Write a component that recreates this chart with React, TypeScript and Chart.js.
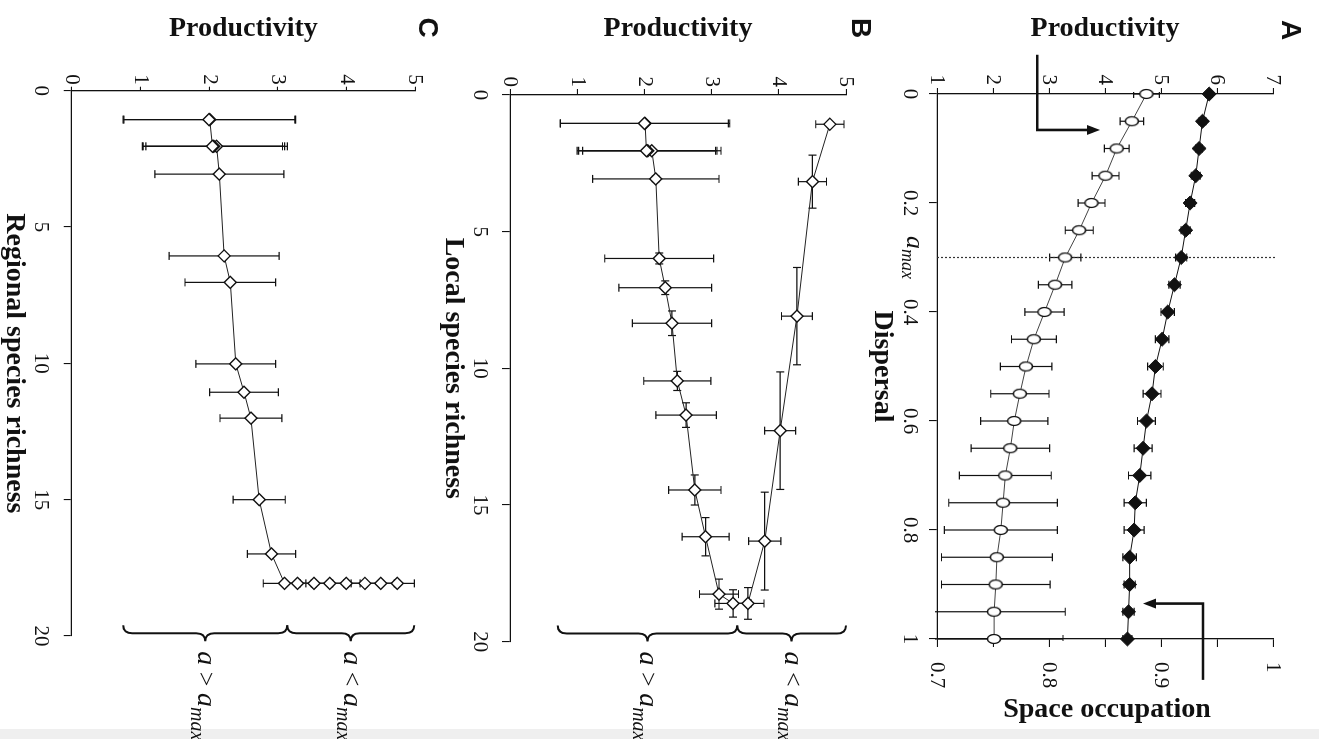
import React, { useEffect, useRef } from "react";
import { Chart, registerables } from "chart.js";

Chart.register(...registerables);

const SERIF = "'Liberation Serif', 'Times New Roman', Times, serif";
const SANS = "'Liberation Sans', Arial, Helvetica, sans-serif";
const INK = "#111111";
const FRAME_W = 739;
const FRAME_H = 1319;

// ---------------- Panel A : productivity & space occupation vs dispersal ----------------
const dispersalA = [0, 0.05, 0.1, 0.15, 0.2, 0.25, 0.3, 0.35, 0.4, 0.45, 0.5, 0.55, 0.6, 0.65, 0.7, 0.75, 0.8, 0.85, 0.9, 0.95, 1];
const productivityA = [4.74, 4.48, 4.21, 4.01, 3.76, 3.54, 3.29, 3.11, 2.92, 2.73, 2.59, 2.48, 2.38, 2.31, 2.22, 2.18, 2.14, 2.07, 2.05, 2.02, 2.02];
const productivityErrA = [0.23, 0.21, 0.22, 0.24, 0.24, 0.25, 0.28, 0.3, 0.35, 0.4, 0.46, 0.52, 0.6, 0.7, 0.82, 0.97, 1.01, 0.99, 0.97, 1.27, 1.23];
const spaceOccupationA = [0.943, 0.937, 0.934, 0.931, 0.926, 0.922, 0.918, 0.912, 0.906, 0.901, 0.895, 0.892, 0.887, 0.884, 0.881, 0.877, 0.876, 0.872, 0.872, 0.871, 0.87];
const spaceOccupationErrA = [0.003, 0.003, 0.003, 0.004, 0.004, 0.004, 0.005, 0.005, 0.006, 0.006, 0.007, 0.008, 0.008, 0.008, 0.01, 0.01, 0.009, 0.006, 0.005, 0.005, 0.004];
const productivityRangeA = [1, 7];
const spaceOccupationRangeA = [0.7, 1];
const dispersalRangeA = [0, 1];
const alphaMaxA = 0.3;
// annotation arrows, in (dispersal, productivity) units
const arrowToProductivityA = [[-0.072, 2.79], [0.066, 2.79], [0.066, 3.91]];
const arrowToSpaceA = [[1.075, 5.75], [0.935, 5.75], [0.935, 4.68]];

// ---------------- Panel B : productivity vs local species richness ----------------
const localRichnessB = [1.07, 3.17, 8.09, 12.28, 16.32, 18.6, 18.6, 18.26, 16.16, 14.45, 11.71, 10.46, 8.35, 7.05, 5.98, 3.07, 2.04, 2.04, 2.04, 1.04, 1.04];
const productivityB = [4.76, 4.5, 4.27, 4.02, 3.79, 3.54, 3.32, 3.11, 2.91, 2.75, 2.62, 2.49, 2.41, 2.31, 2.22, 2.17, 2.11, 2.05, 2.03, 2.01, 2.0];
const productivityErrB = [0.21, 0.21, 0.23, 0.23, 0.24, 0.24, 0.27, 0.29, 0.35, 0.39, 0.45, 0.5, 0.59, 0.69, 0.81, 0.94, 1.03, 1.03, 1.03, 1.26, 1.25];
const localRichnessErrB = [0, 0.97, 1.78, 2.15, 1.79, 0.58, 0.5, 0.55, 0.7, 0.55, 0.45, 0.35, 0.45, 0.25, 0.2, 0.1, 0.05, 0.05, 0.05, 0.05, 0.05];
const richnessRangeB = [0, 20];
const productivityRangeB = [0, 5];
const braceAtB = 19.7;
const braceSplitsB = [0.71, 3.38, 5.0];

// ---------------- Panel C : productivity vs regional species richness ----------------
const regionalRichnessC = [18.07, 18.07, 18.07, 18.07, 18.07, 18.07, 18.07, 18.07, 16.99, 15.0, 12.01, 11.06, 10.02, 7.03, 6.06, 3.06, 2.04, 2.04, 2.04, 1.06, 1.06];
const productivityC = [4.74, 4.5, 4.27, 4.0, 3.76, 3.53, 3.29, 3.1, 2.91, 2.73, 2.61, 2.51, 2.39, 2.31, 2.22, 2.15, 2.11, 2.07, 2.05, 2.01, 2.0];
const productivityErrC = [0.25, 0.2, 0.2, 0.2, 0.2, 0.2, 0.2, 0.31, 0.35, 0.38, 0.45, 0.5, 0.58, 0.66, 0.8, 0.94, 1.03, 1.03, 1.02, 1.25, 1.25];
const richnessRangeC = [0, 20];
const productivityRangeC = [0, 5];
const braceAtC = 19.9;
const braceSplitsC = [0.75, 3.14, 4.99];

// ---------------------------------------------------------------------------------
const titleFont = { family: SERIF, size: 28, weight: "bold" as const, lineHeight: 1 };
const tickFont = { family: SERIF, size: 21 };
const fmt = (v: number) => String(Math.round(v * 100) / 100);

function ellipseMarker(w: number, h: number) {
  const c = document.createElement("canvas");
  c.width = w + 3;
  c.height = h + 3;
  const g = c.getContext("2d")!;
  g.beginPath();
  g.ellipse(c.width / 2, c.height / 2, w / 2, h / 2, 0, 0, Math.PI * 2);
  g.fillStyle = "#fff";
  g.fill();
  g.lineWidth = 1.3;
  g.strokeStyle = INK;
  g.stroke();
  return c;
}

const errorBarPlugin = {
  id: "errorBars",
  beforeDatasetsDraw(chart: any) {
    const { ctx, chartArea } = chart;
    ctx.save();
    ctx.beginPath();
    ctx.rect(chartArea.left - 2, chartArea.top - 2, chartArea.right - chartArea.left + 4, chartArea.bottom - chartArea.top + 4);
    ctx.clip();
    chart.data.datasets.forEach((ds: any, di: number) => {
      const meta = chart.getDatasetMeta(di);
      const xs = chart.scales[meta.xAxisID];
      const ys = chart.scales[meta.yAxisID];
      ctx.strokeStyle = INK;
      ctx.lineWidth = 1.2;
      const cap = 4;
      ds.data.forEach((p: any, i: number) => {
        const cx = xs.getPixelForValue(p.x);
        const cy = ys.getPixelForValue(p.y);
        const ey = ds.errY ? ds.errY[i] : 0;
        if (ey) {
          const y1 = ys.getPixelForValue(p.y - ey);
          const y2 = ys.getPixelForValue(p.y + ey);
          ctx.beginPath();
          ctx.moveTo(cx, y1);
          ctx.lineTo(cx, y2);
          ctx.moveTo(cx - cap, y1);
          ctx.lineTo(cx + cap, y1);
          ctx.moveTo(cx - cap, y2);
          ctx.lineTo(cx + cap, y2);
          ctx.stroke();
        }
        const ex = ds.errX ? ds.errX[i] : 0;
        if (ex) {
          const x1 = xs.getPixelForValue(p.x - ex);
          const x2 = xs.getPixelForValue(p.x + ex);
          ctx.beginPath();
          ctx.moveTo(x1, cy);
          ctx.lineTo(x2, cy);
          ctx.moveTo(x1, cy - cap);
          ctx.lineTo(x1, cy + cap);
          ctx.moveTo(x2, cy - cap);
          ctx.lineTo(x2, cy + cap);
          ctx.stroke();
        }
      });
    });
    ctx.restore();
  },
};

function drawAlphaText(ctx: any, x: number, y: number, op: string | null, align: "left" | "center", big: number, small: number, dy: number) {
  const segs: { t: string; f: string; dy: number }[] = [];
  if (op) {
    segs.push({ t: "a", f: `italic ${big}px ${SERIF}`, dy: 0 });
    segs.push({ t: ` ${op} `, f: `${big - 2}px ${SERIF}`, dy: 0 });
  }
  segs.push({ t: "a", f: `italic ${big}px ${SERIF}`, dy: 0 });
  segs.push({ t: "max", f: `italic ${small}px ${SERIF}`, dy });
  let total = 0;
  const widths = segs.map((s) => {
    ctx.font = s.f;
    const w = ctx.measureText(s.t).width;
    total += w;
    return w;
  });
  let cx = align === "center" ? x - total / 2 : x;
  ctx.save();
  ctx.fillStyle = INK;
  ctx.textAlign = "left";
  ctx.textBaseline = "alphabetic";
  segs.forEach((s, i) => {
    ctx.font = s.f;
    ctx.fillText(s.t, cx, y + s.dy);
    cx += widths[i];
  });
  ctx.restore();
}

function drawArrow(ctx: any, pts: number[][]) {
  const n = pts.length;
  const [tx, ty] = pts[n - 1];
  const [px, py] = pts[n - 2];
  const len = Math.hypot(tx - px, ty - py);
  const ux = (tx - px) / len;
  const uy = (ty - py) / len;
  const head = 13;
  const hw = 5;
  ctx.save();
  ctx.strokeStyle = INK;
  ctx.fillStyle = INK;
  ctx.lineWidth = 2.6;
  ctx.lineJoin = "miter";
  ctx.beginPath();
  ctx.moveTo(pts[0][0], pts[0][1]);
  for (let i = 1; i < n - 1; i++) ctx.lineTo(pts[i][0], pts[i][1]);
  ctx.lineTo(tx - ux * head, ty - uy * head);
  ctx.stroke();
  ctx.beginPath();
  ctx.moveTo(tx, ty);
  ctx.lineTo(tx - ux * head - uy * hw, ty - uy * head + ux * hw);
  ctx.lineTo(tx - ux * head + uy * hw, ty - uy * head - ux * hw);
  ctx.closePath();
  ctx.fill();
  ctx.restore();
}

function drawBrace(ctx: any, x: number, yA: number, yB: number) {
  const d = 8;
  const r = 9;
  const ym = (yA + yB) / 2;
  ctx.beginPath();
  ctx.moveTo(x - d, yA);
  ctx.quadraticCurveTo(x, yA, x, yA + r);
  ctx.lineTo(x, ym - r);
  ctx.quadraticCurveTo(x, ym, x + d, ym);
  ctx.quadraticCurveTo(x, ym, x, ym + r);
  ctx.lineTo(x, yB - r);
  ctx.quadraticCurveTo(x, yB, x - d, yB);
  ctx.stroke();
}

function drawLetter(ctx: any, letter: string, x: number, y: number) {
  ctx.save();
  ctx.fillStyle = INK;
  ctx.font = `bold 28px ${SANS}`;
  ctx.textAlign = "center";
  ctx.textBaseline = "middle";
  ctx.fillText(letter, x, y);
  ctx.restore();
}

function braceExtras(id: string, letter: string, braceAt: number, splits: number[], letterPos: number[]) {
  return {
    id,
    afterDraw(chart: any) {
      const { ctx, chartArea } = chart;
      const xs = chart.scales.x;
      const ys = chart.scales.y;
      const bx = xs.getPixelForValue(braceAt);
      ctx.save();
      ctx.strokeStyle = INK;
      ctx.lineWidth = 2;
      const yHigh = ys.getPixelForValue(splits[2]);
      const ySplit = ys.getPixelForValue(splits[1]);
      const yLow = ys.getPixelForValue(splits[0]);
      drawBrace(ctx, bx, yHigh, ySplit);
      drawBrace(ctx, bx, ySplit, yLow);
      ctx.restore();
      drawAlphaText(ctx, bx + 18, (yHigh + ySplit) / 2 + 7, "<", "left", 28, 20, 7);
      drawAlphaText(ctx, bx + 18, (ySplit + yLow) / 2 + 7, ">", "left", 28, 20, 7);
      drawLetter(ctx, letter, chartArea.left + letterPos[0], chartArea.top + letterPos[1]);
    },
  };
}

function axisGrid(tickLength: number) {
  return { display: true, drawOnChartArea: false, drawTicks: true, tickLength, color: INK, lineWidth: 1.1 };
}
const axisBorder = { display: true, color: INK, width: 1.3 };

function lineDataset(xs: number[], ys: number[], extra: any) {
  return {
    data: xs.map((x, i) => ({ x, y: ys[i] })),
    showLine: true,
    borderColor: "#222",
    borderWidth: 1,
    clip: false,
    ...extra,
  };
}

function buildA() {
  const area = { left: 94, right: 639, top: 46, bottom: 382 };
  const xBoxBottom = 451;
  const extras = {
    id: "extrasA",
    beforeDatasetsDraw(chart: any) {
      const { ctx } = chart;
      const x = chart.scales.x.getPixelForValue(alphaMaxA);
      ctx.save();
      ctx.strokeStyle = "#333";
      ctx.lineWidth = 1.2;
      ctx.setLineDash([2, 2]);
      ctx.beginPath();
      ctx.moveTo(x, chart.scales.y.getPixelForValue(productivityRangeA[0]));
      ctx.lineTo(x, chart.scales.y.getPixelForValue(productivityRangeA[1] + 0.07));
      ctx.stroke();
      ctx.restore();
    },
    afterDraw(chart: any) {
      const { ctx, chartArea } = chart;
      const xs = chart.scales.x;
      const ys = chart.scales.y;
      drawAlphaText(ctx, xs.getPixelForValue(alphaMaxA), chartArea.bottom + 30, null, "center", 26, 18, 5);
      ctx.save();
      ctx.fillStyle = INK;
      ctx.font = `bold 28px ${SERIF}`;
      ctx.textAlign = "center";
      ctx.textBaseline = "middle";
      ctx.translate(chart.scales.y1.right - 29.5, (chartArea.top + chartArea.bottom) / 2 - 2);
      ctx.rotate(-Math.PI / 2);
      ctx.fillText("Space occupation", 0, 0);
      ctx.restore();
      const toPx = (p: number[]) => [xs.getPixelForValue(p[0]), ys.getPixelForValue(p[1])];
      drawArrow(ctx, arrowToProductivityA.map(toPx));
      drawArrow(ctx, arrowToSpaceA.map(toPx));
      drawLetter(ctx, "A", chartArea.left - 64, chartArea.top - 17);
    },
  };
  return {
    type: "scatter",
    data: {
      datasets: [
        lineDataset(dispersalA, spaceOccupationA, {
          yAxisID: "y1",
          errY: spaceOccupationErrA,
          borderColor: INK,
          pointStyle: "rectRot",
          pointRadius: 7,
          pointBackgroundColor: INK,
          pointBorderColor: INK,
          pointBorderWidth: 1,
        }),
        lineDataset(dispersalA, productivityA, {
          yAxisID: "y",
          errY: productivityErrA,
          borderColor: "#444",
          pointStyle: ellipseMarker(9, 13),
          pointRadius: 6,
        }),
      ],
    },
    options: {
      animation: false,
      responsive: false,
      events: [],
      layout: { padding: { left: 0, top: area.top, right: 0, bottom: FRAME_H - xBoxBottom } },
      plugins: { legend: { display: false }, tooltip: { enabled: false } },
      scales: {
        x: {
          type: "linear",
          position: "bottom",
          min: dispersalRangeA[0],
          max: dispersalRangeA[1],
          ticks: { stepSize: 0.2, padding: 7, font: tickFont, color: INK, autoSkip: false, callback: (v: number) => fmt(v) },
          grid: axisGrid(8),
          border: axisBorder,
          title: { display: true, text: "Dispersal", font: titleFont, color: INK, padding: { top: 0, bottom: 0 } },
          afterFit: (s: any) => {
            s.height = xBoxBottom - area.bottom;
          },
        },
        y: {
          type: "linear",
          position: "left",
          min: productivityRangeA[0],
          max: productivityRangeA[1],
          ticks: { stepSize: 1, padding: 3, font: tickFont, color: INK, autoSkip: false },
          grid: axisGrid(6),
          border: axisBorder,
          title: { display: true, text: "Productivity", font: titleFont, color: INK, padding: { top: 15, bottom: 0 } },
          afterFit: (s: any) => {
            s.width = area.left;
          },
        },
        y1: {
          type: "linear",
          position: "right",
          min: spaceOccupationRangeA[0],
          max: spaceOccupationRangeA[1],
          ticks: {
            stepSize: 0.05,
            padding: 15,
            font: tickFont,
            color: INK,
            autoSkip: false,
            callback: (v: number) => (Math.abs(v * 10 - Math.round(v * 10)) < 1e-6 ? String(Math.round(v * 10) / 10) : ""),
          },
          grid: axisGrid(8),
          border: axisBorder,
          afterFit: (s: any) => {
            s.width = FRAME_W - area.right;
          },
        },
      },
    },
    plugins: [errorBarPlugin, extras],
  };
}

function buildRichness(opts: {
  area: { left: number; right: number; top: number; bottom: number };
  xBoxBottom: number;
  xTitle: string;
  xPad: number;
  yPad: number;
  yTick: number;
  xs: number[];
  ys: number[];
  errY: number[];
  errX: number[] | null;
  xRange: number[];
  yRange: number[];
  extras: any;
}) {
  const { area, xBoxBottom } = opts;
  return {
    type: "scatter",
    data: {
      datasets: [
        lineDataset(opts.xs, opts.ys, {
          yAxisID: "y",
          errY: opts.errY,
          errX: opts.errX,
          pointStyle: "rectRot",
          pointRadius: 6,
          pointBackgroundColor: "#fff",
          pointBorderColor: INK,
          pointBorderWidth: 1.4,
        }),
      ],
    },
    options: {
      animation: false,
      responsive: false,
      events: [],
      layout: { padding: { left: 0, top: area.top, right: FRAME_W - area.right, bottom: FRAME_H - xBoxBottom } },
      plugins: { legend: { display: false }, tooltip: { enabled: false } },
      scales: {
        x: {
          type: "linear",
          position: "bottom",
          min: opts.xRange[0],
          max: opts.xRange[1],
          ticks: { stepSize: 5, padding: opts.xPad, font: tickFont, color: INK, autoSkip: false, callback: (v: number) => fmt(v) },
          grid: axisGrid(8),
          border: axisBorder,
          title: { display: true, text: opts.xTitle, font: titleFont, color: INK, padding: { top: 0, bottom: 0 } },
          afterFit: (s: any) => {
            s.height = xBoxBottom - area.bottom;
          },
        },
        y: {
          type: "linear",
          position: "left",
          min: opts.yRange[0],
          max: opts.yRange[1],
          ticks: { stepSize: 1, padding: opts.yPad, font: tickFont, color: INK, autoSkip: false, callback: (v: number) => fmt(v) },
          grid: axisGrid(opts.yTick),
          border: axisBorder,
          title: { display: true, text: "Productivity", font: titleFont, color: INK, padding: { top: 15, bottom: 0 } },
          afterFit: (s: any) => {
            s.width = area.left;
          },
        },
      },
    },
    plugins: [errorBarPlugin, opts.extras],
  };
}

function buildB() {
  return buildRichness({
    area: { left: 95, right: 641.7, top: 473, bottom: 809 },
    xBoxBottom: 879.5,
    xTitle: "Local species richness",
    xPad: 10,
    yPad: 2,
    yTick: 6,
    xs: localRichnessB,
    ys: productivityB,
    errY: productivityErrB,
    errX: localRichnessErrB,
    xRange: richnessRangeB,
    yRange: productivityRangeB,
    extras: braceExtras("extrasB", "B", braceAtB, braceSplitsB, [-67, -14]),
  });
}

function buildC() {
  return buildRichness({
    area: { left: 90.7, right: 636, top: 904, bottom: 1247.3 },
    xBoxBottom: 1318.5,
    xTitle: "Regional species richness",
    xPad: 11,
    yPad: 2,
    yTick: 4,
    xs: regionalRichnessC,
    ys: productivityC,
    errY: productivityErrC,
    errX: null,
    xRange: richnessRangeC,
    yRange: productivityRangeC,
    extras: braceExtras("extrasC", "C", braceAtC, braceSplitsC, [-63, -12]),
  });
}

function PanelChart({ build }: { build: () => any }) {
  const ref = useRef<HTMLCanvasElement>(null);
  useEffect(() => {
    const chart = new Chart(ref.current as HTMLCanvasElement, build());
    return () => chart.destroy();
  }, [build]);
  return (
    <canvas
      ref={ref}
      width={FRAME_W}
      height={FRAME_H}
      style={{ position: "absolute", left: 0, top: 0, width: FRAME_W, height: FRAME_H }}
    />
  );
}

export default function App() {
  return (
    <div style={{ position: "fixed", left: 0, top: 0, width: FRAME_H, height: FRAME_W, overflow: "hidden", background: "#fff" }}>
      <div style={{ position: "absolute", left: 0, top: 729, width: FRAME_H, height: 10, background: "#efefef" }} />
      <div
        style={{
          position: "absolute",
          left: 0,
          top: 0,
          width: FRAME_W,
          height: FRAME_H,
          transformOrigin: "0 0",
          transform: `translateX(${FRAME_H}px) rotate(90deg)`,
        }}
      >
        <PanelChart build={buildA} />
        <PanelChart build={buildB} />
        <PanelChart build={buildC} />
      </div>
    </div>
  );
}
